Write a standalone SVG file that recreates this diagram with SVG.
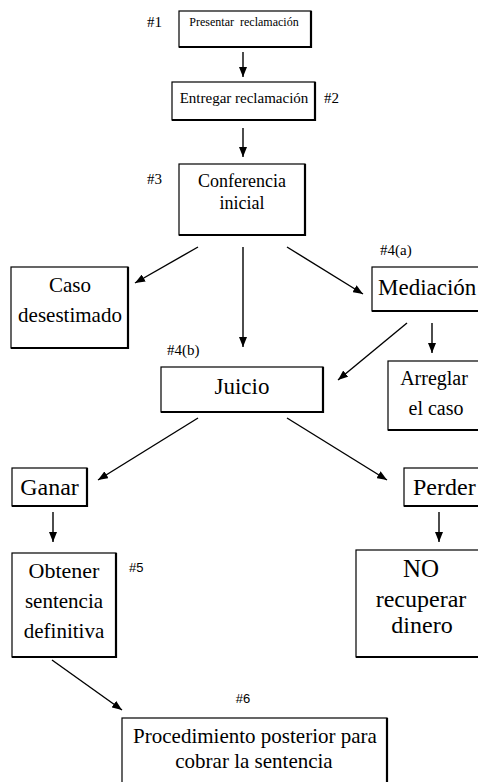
<svg xmlns="http://www.w3.org/2000/svg" width="478" height="782" viewBox="0 0 478 782">
<style>
.bx{fill:#fff;stroke:#000;stroke-width:1.2}
.sh{fill:none;stroke:#000;stroke-width:2.2}
.t{font-family:'Liberation Serif',serif;fill:#000;text-anchor:middle}
.ts{font-family:'Liberation Serif',serif;fill:#000}
.n{font-family:'Liberation Sans',sans-serif;fill:#000;font-size:13px}
.ns{font-family:'Liberation Serif',serif;fill:#000;font-size:15px}
.ln{stroke:#000;stroke-width:1.4}
</style>
<defs>
<marker id="ah" markerUnits="userSpaceOnUse" markerWidth="10" markerHeight="8" refX="10" refY="4" orient="auto">
<path d="M0,0 L10,4 L0,8 z" fill="#000"/>
</marker>
</defs>
<rect width="478" height="782" fill="#fff"/>

<g id="connectors">
<line class="ln" marker-end="url(#ah)" x1="243" y1="52" x2="243" y2="77"/>
<line class="ln" marker-end="url(#ah)" x1="243" y1="128" x2="243" y2="157"/>
<line class="ln" marker-end="url(#ah)" x1="198" y1="247" x2="135" y2="283"/>
<line class="ln" marker-end="url(#ah)" x1="243" y1="247" x2="243" y2="347"/>
<line class="ln" marker-end="url(#ah)" x1="287" y1="247" x2="363" y2="294"/>
<line class="ln" marker-end="url(#ah)" x1="407" y1="323" x2="338" y2="380"/>
<line class="ln" marker-end="url(#ah)" x1="432" y1="323" x2="432" y2="353"/>
<line class="ln" marker-end="url(#ah)" x1="198" y1="418" x2="98" y2="480"/>
<line class="ln" marker-end="url(#ah)" x1="287" y1="418" x2="387" y2="480"/>
<line class="ln" marker-end="url(#ah)" x1="53" y1="512" x2="53" y2="542"/>
<line class="ln" marker-end="url(#ah)" x1="439" y1="512" x2="439" y2="542"/>
<line class="ln" marker-end="url(#ah)" x1="52" y1="660" x2="122" y2="710"/>
</g>

<g id="n1">
<rect class="bx" x="179" y="11" width="132" height="36"/>
<path class="sh" d="M179,47 H311 V11"/>
<text class="t" x="244" y="26" font-size="12" xml:space="preserve">Presentar  reclamación</text>
<text class="ns" x="147" y="27">#1</text>
</g>

<g id="n2">
<rect class="bx" x="172" y="82" width="143" height="38"/>
<path class="sh" d="M172,120 H315 V82"/>
<text class="t" x="244" y="103" font-size="15">Entregar reclamación</text>
<text class="ns" x="324" y="103">#2</text>
</g>

<g id="n3">
<rect class="bx" x="179" y="164" width="126" height="71"/>
<path class="sh" d="M179,235 H305 V164"/>
<text class="t" x="242" y="187" font-size="18">Conferencia</text>
<text class="t" x="242" y="209" font-size="18">inicial</text>
<text class="ns" x="147" y="184">#3</text>
</g>

<g id="n_caso">
<rect class="bx" x="11" y="267" width="117" height="81"/>
<path class="sh" d="M11,348 H128 V267"/>
<text class="t" x="70" y="292" font-size="21">Caso</text>
<text class="t" x="70" y="322" font-size="21">desestimado</text>
</g>

<g id="n4a">
<rect class="bx" x="372" y="267" width="115" height="44"/>
<path class="sh" d="M372,311 H487"/>
<text class="ts" x="378" y="295" font-size="23">Mediación</text>
<text class="ns" x="380" y="255">#4(a)</text>
</g>

<g id="n4b">
<rect class="bx" x="161" y="367" width="162" height="45"/>
<path class="sh" d="M161,412 H323 V367"/>
<text class="t" x="242" y="394" font-size="23">Juicio</text>
<text class="ns" x="167" y="355">#4(b)</text>
</g>

<g id="n_arreglar">
<rect class="bx" x="388" y="361" width="100" height="69"/>
<path class="sh" d="M388,430 H488"/>
<text class="t" x="434" y="385" font-size="20">Arreglar</text>
<text class="t" x="436" y="415" font-size="20">el caso</text>
</g>

<g id="n_ganar">
<rect class="bx" x="12" y="468" width="75" height="38"/>
<path class="sh" d="M12,506 H87 V468"/>
<text class="t" x="49.5" y="495" font-size="24">Ganar</text>
</g>

<g id="n_perder">
<rect class="bx" x="404" y="468" width="84" height="38"/>
<path class="sh" d="M404,506 H488"/>
<text class="ts" x="413" y="495" font-size="24">Perder</text>
</g>

<g id="n5">
<rect class="bx" x="12" y="553" width="104" height="104"/>
<path class="sh" d="M12,657 H116 V553"/>
<text class="t" x="64" y="578" font-size="22">Obtener</text>
<text class="t" x="64" y="608" font-size="21">sentencia</text>
<text class="t" x="64" y="638" font-size="21">definitiva</text>
<text class="n" x="129" y="572">#5</text>
</g>

<g id="n_no">
<rect class="bx" x="356" y="550" width="132" height="107"/>
<path class="sh" d="M356,657 H488"/>
<text class="t" x="421" y="577" font-size="25">NO</text>
<text class="t" x="421" y="607" font-size="24">recuperar</text>
<text class="t" x="422" y="633" font-size="24">dinero</text>
</g>

<g id="n6">
<rect class="bx" x="122" y="718" width="265" height="80"/>
<path class="sh" d="M387,718 V798"/>
<text class="t" x="255" y="743" font-size="21">Procedimiento posterior para</text>
<text class="t" x="254" y="768" font-size="21">cobrar la sentencia</text>
<text class="n" x="243" y="703" text-anchor="middle">#6</text>
</g>
</svg>
